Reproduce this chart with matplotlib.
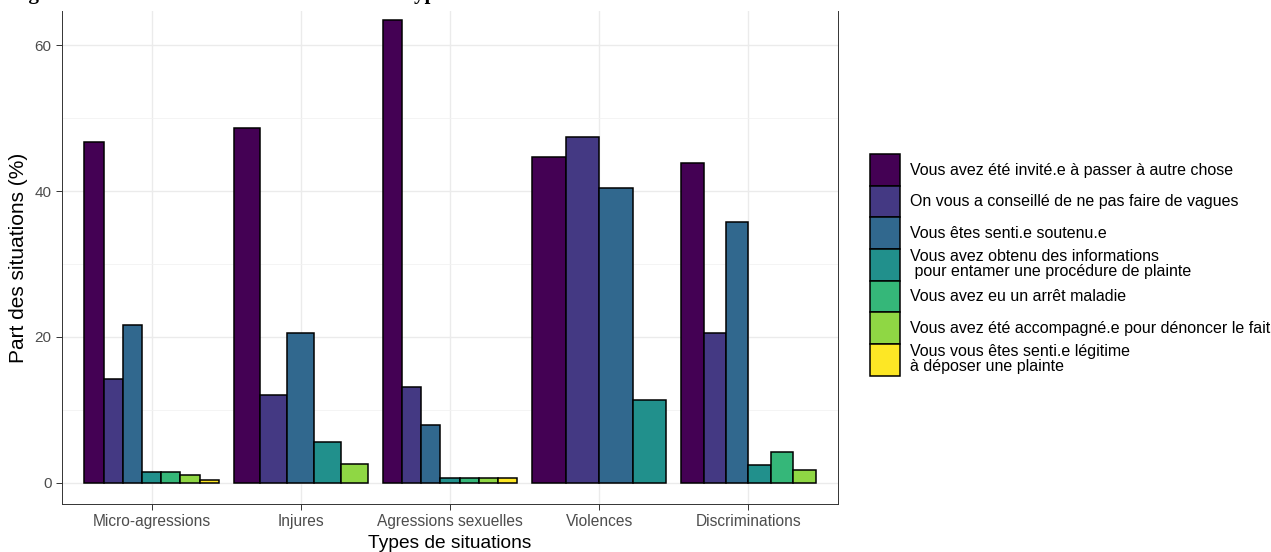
import numpy as np
import matplotlib
matplotlib.use("Agg")
import matplotlib.pyplot as plt
from matplotlib.patches import Patch

plt.rcParams['font.family'] = ['Liberation Sans', 'DejaVu Sans']

# Données
categories = ["Micro-agressions", "Injures", "Agressions sexuelles", "Violences", "Discriminations"]

labels = [
    "Vous avez été invité.e à passer à autre chose",
    "On vous a conseillé de ne pas faire de vagues",
    "Vous êtes senti.e soutenu.e",
    "Vous avez obtenu des informations\n pour entamer une procédure de plainte",
    "Vous avez eu un arrêt maladie",
    "Vous avez été accompagné.e pour dénoncer le fait",
    "Vous vous êtes senti.e légitime\nà déposer une plainte",
]

# une liste par modalité, None = absente du groupe
invite = [46.7, 48.7, 63.5, 44.7, 43.9]
vagues = [14.2, 12.0, 13.2, 47.4, 20.5]
soutenu = [21.6, 20.5, 7.9, 40.4, 35.8]
informations = [1.5, 5.6, 0.6, 11.4, 2.5]
arret = [1.5, None, 0.6, None, 4.2]
accompagne = [1.1, 2.6, 0.6, None, 1.7]
legitime = [0.4, None, 0.6, None, None]

series = [invite, vagues, soutenu, informations, arret, accompagne, legitime]
couleurs = ["#440154", "#443983", "#31688E", "#21908C", "#35B779", "#8FD744", "#FDE725"]

W, H = 1271, 552
fig = plt.figure(figsize=(W / 100, H / 100), dpi=100)
ax = fig.add_axes([62 / W, 1 - 504 / H, (838 - 62) / W, (504 - 11) / H])

# barres juxtaposées (dodge) : la largeur 0.9 est partagée entre les modalités présentes
for i, cat in enumerate(categories):
    presents = [k for k in range(len(series)) if series[k][i] is not None]
    n = len(presents)
    w = 0.9 / n
    for j, k in enumerate(presents):
        x = i + 1 - 0.45 + (j + 0.5) * w
        ax.bar(x, series[k][i], width=w, color=couleurs[k], edgecolor="black",
               linewidth=1.1, zorder=3)

ax.set_xlim(0.4, 5.6)
ax.set_ylim(-2.9, 64.7)
ax.set_xticks(range(1, 6))
ax.set_xticklabels(categories, fontsize=11.2)
ax.set_yticks([0, 20, 40, 60])
ax.set_yticklabels(["0", "20", "40", "60"], fontsize=11)
ax.set_yticks([10, 30, 50], minor=True)

ax.grid(True, which="major", color="#EBEBEB", linewidth=1.0, zorder=0)
ax.grid(True, which="minor", axis="y", color="#F2F2F2", linewidth=0.6, zorder=0)
ax.set_axisbelow(True)
for s in ax.spines.values():
    s.set_color("#333333")
    s.set_linewidth(0.7)
ax.spines["top"].set_visible(False)

ax.tick_params(axis="both", which="major", colors="#333333", labelcolor="#4D4D4D",
               length=4, width=0.7, pad=3.5)
ax.tick_params(axis="y", which="minor", length=0)
ax.set_xlabel("Types de situations", fontsize=13.8, labelpad=4)
ax.set_ylabel("Part des situations (%)", fontsize=15, labelpad=5)

handles = [Patch(facecolor=c, edgecolor="black", linewidth=1.1) for c in couleurs]
leg = fig.legend(handles, labels, loc="center left", bbox_to_anchor=(870 / W, 1 - 265 / H),
                 frameon=False, fontsize=11.5, handlelength=1.88, handleheight=2.66,
                 handletextpad=0.63, labelspacing=0.0, borderpad=0, borderaxespad=0)
for t in leg.get_texts():
    t.set_linespacing(1.0)

# titre, coupé par le haut de l'image
fig.text(10 / W, 1 + 0.5 / H, "Figure 9 : Réactions aux situations selon les Types de situations",
         fontfamily="Liberation Serif", fontweight="bold", fontsize=15, va="baseline", ha="left")

fig.savefig("out.png", dpi=100)
